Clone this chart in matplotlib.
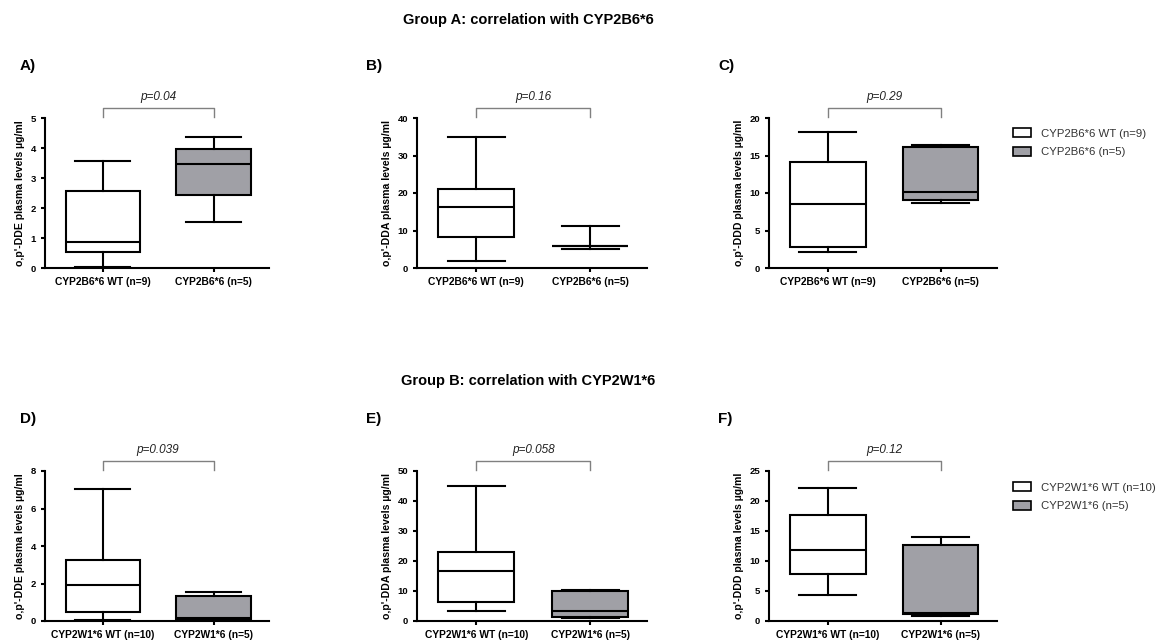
import matplotlib.pyplot as plt
from matplotlib.patches import Patch

plt.rcParams['font.family'] = ['Liberation Sans', 'DejaVu Sans']

# Five-number summaries: [low whisker, Q1, median, Q3, high whisker]
groupA_labels = ['CYP2B6*6 WT (n=9)', 'CYP2B6*6 (n=5)']
groupB_labels = ['CYP2W1*6 WT (n=10)', 'CYP2W1*6 (n=5)']

dde_A = [[0.03, 0.52, 0.87, 2.57, 3.58], [1.53, 2.42, 3.47, 3.98, 4.37]]
dda_A = [[1.8, 8.3, 16.3, 21.2, 34.9], [5.2, 5.8, 5.8, 5.9, 11.2]]
ddd_A = [[2.1, 2.8, 8.6, 14.1, 18.1], [8.7, 9.1, 10.2, 16.1, 16.4]]
dde_B = [[0.04, 0.48, 1.9, 3.26, 7.02], [0.03, 0.06, 0.16, 1.35, 1.56]]
dda_B = [[3.2, 6.3, 16.6, 22.9, 44.9], [1.0, 1.3, 3.4, 9.9, 10.2]]
ddd_B = [[4.3, 7.9, 11.8, 17.6, 22.2], [0.9, 1.2, 1.3, 12.6, 14.0]]

p_values = ['p=0.04', 'p=0.16', 'p=0.29', 'p=0.039', 'p=0.058', 'p=0.12']
y_max = [5, 40, 20, 8, 50, 25]
y_step = [1, 10, 5, 2, 10, 5]
compounds = ['DDE', 'DDA', 'DDD', 'DDE', 'DDA', 'DDD']
panel_names = ['A)', 'B)', 'C)', 'D)', 'E)', 'F)']

all_stats = [dde_A, dda_A, ddd_A, dde_B, dda_B, ddd_B]
all_labels = [groupA_labels] * 3 + [groupB_labels] * 3

W, H = 1164, 641
fig = plt.figure(figsize=(W / 100, H / 100), dpi=100)

col_left = [45, 417, 769]
col_width = [224, 230, 228]
row_bottom = [268, 621]
ax_h = 150
gray = '#a0a0a6'

for i in range(6):
    r, c = divmod(i, 3)
    ax = fig.add_axes([col_left[c] / W, 1 - row_bottom[r] / H,
                       col_width[c] / W, ax_h / H])
    stats = []
    for s, lab in zip(all_stats[i], all_labels[i]):
        stats.append(dict(whislo=s[0], q1=s[1], med=s[2], q3=s[3],
                          whishi=s[4], label=lab, fliers=[]))
    bp = ax.bxp(stats, positions=[1, 2], widths=0.67, patch_artist=True,
                showfliers=False,
                boxprops=dict(linewidth=1.5, edgecolor='black'),
                medianprops=dict(color='black', linewidth=1.5),
                whiskerprops=dict(color='black', linewidth=1.5),
                capprops=dict(color='black', linewidth=1.5))
    bp['boxes'][0].set_facecolor('white')
    bp['boxes'][1].set_facecolor(gray)
    for cap in bp['caps']:
        x = cap.get_xdata()
        mid = (x[0] + x[1]) / 2
        cap.set_xdata([mid - 0.25, mid + 0.25])

    ym = y_max[i]
    ax.set_ylim(0, ym)
    ax.set_xlim(0.48, 2.5)
    ax.set_yticks(range(0, ym + 1, y_step[i]))
    for side in ['top', 'right']:
        ax.spines[side].set_visible(False)
    for side in ['left', 'bottom']:
        ax.spines[side].set_linewidth(1.5)
    ax.tick_params(axis='both', width=1.5, length=3, labelsize=6.8)
    for t in ax.get_yticklabels():
        t.set_fontweight('bold')
    ax.set_xticklabels(all_labels[i], fontsize=7.4, fontweight='bold')
    ax.set_ylabel("o,p'-" + compounds[i] + " plasma levels \u00b5g/ml",
                  fontsize=7.6, fontweight='bold', labelpad=4)

    # significance bracket
    yb = ym * 1.065
    ax.plot([1, 1, 2, 2], [ym * 1.01, yb, yb, ym * 1.01], color='#808080',
            linewidth=1.0, clip_on=False)
    ax.text(1.5, ym * 1.1, p_values[i], ha='center', va='bottom',
            fontsize=8.5, style='italic', color='#222222')

    lx = col_left[c] - 25 if c == 0 else col_left[c] - 51
    fig.text(lx / W, 1 - (row_bottom[r] - 202) / H, panel_names[i],
             fontsize=11, fontweight='bold', va='center')

fig.text(528 / W, 1 - 20 / H, 'Group A: correlation with CYP2B6*6',
         ha='center', va='center', fontsize=10.5, fontweight='bold')
fig.text(528 / W, 1 - 381 / H, 'Group B: correlation with CYP2W1*6',
         ha='center', va='center', fontsize=10.5, fontweight='bold')

for r, labels in enumerate([groupA_labels, groupB_labels]):
    handles = [Patch(facecolor='white', edgecolor='black', linewidth=1.2),
               Patch(facecolor=gray, edgecolor='black', linewidth=1.2)]
    top_px = 118 if r == 0 else 472
    fig.legend(handles, labels, loc='upper left',
               bbox_to_anchor=(1003 / W, 1 - top_px / H), frameon=False,
               fontsize=8.2, handlelength=1.6, handleheight=0.8,
               labelspacing=0.75, labelcolor='#333333')

fig.savefig('out.png', dpi=100)
